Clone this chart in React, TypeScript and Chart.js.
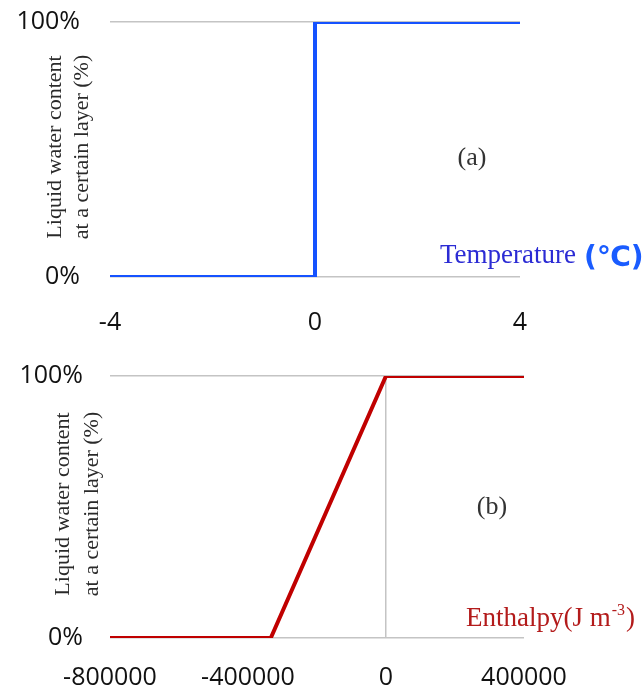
import React, { useEffect, useRef } from "react";
import { Chart, registerables } from "chart.js";

Chart.register(...registerables);

// Panel (a): temperature vs liquid water content
const tempX = [-4, 0, 0, 4];
const tempY = [0, 0, 100, 100];
const tempTicks = [-4, 0, 4];

// Panel (b): enthalpy vs liquid water content
const enthX = [-800000, -334000, 0, 400000];
const enthY = [0, 0, 100, 100];
const enthTicks = [-800000, -400000, 0, 400000];

const yTicks = [0, 100];
const yTitleLines = ["Liquid water content", "at a certain layer (%)"];

const GRID = "#c4c4c4";

type Ann = {
  title1X: number; title2X: number; titleY: number;
  tag: string; tagX: number; tagY: number;
  draw: (ctx: CanvasRenderingContext2D) => void;
};

function makeChart(
  canvas: HTMLCanvasElement,
  xs: number[], ys: number[], ticks: number[],
  color: string, area: { top: number; right: number; xh: number; tickPad: number; yPad: number },
  ann: Ann
) {
  const data = xs.map((x, i) => ({ x, y: ys[i] }));
  const annPlugin = {
    id: "ann",
    afterDraw(chart: any) {
      const ctx = chart.ctx as CanvasRenderingContext2D;
      ctx.save();
      ctx.fillStyle = "#2a2a2a";
      ctx.font = "22px 'Liberation Serif'";
      ctx.textAlign = "center";
      ctx.textBaseline = "middle";
      [ann.title1X, ann.title2X].forEach((tx, i) => {
        ctx.save();
        ctx.translate(tx, ann.titleY);
        ctx.rotate(-Math.PI / 2);
        ctx.fillText(yTitleLines[i], 0, 0);
        ctx.restore();
      });
      ctx.fillStyle = "#333";
      ctx.font = "26px 'Liberation Serif'";
      ctx.fillText(ann.tag, ann.tagX, ann.tagY);
      ann.draw(ctx);
      ctx.restore();
    },
  };
  return new Chart(canvas, {
    type: "scatter",
    data: {
      datasets: [
        {
          data,
          showLine: true,
          borderColor: color,
          backgroundColor: color,
          borderWidth: 4,
          pointRadius: 0,
          tension: 0,
          borderJoinStyle: "miter",
        } as any,
      ],
    },
    options: {
      animation: false,
      responsive: false,
      maintainAspectRatio: false,
      layout: { padding: { top: area.top, right: 642 - area.right, left: 0, bottom: 0 } },
      plugins: { legend: { display: false }, tooltip: { enabled: false } },
      scales: {
        x: {
          type: "linear",
          min: ticks[0],
          max: ticks[ticks.length - 1],
          afterBuildTicks: (s: any) => { s.ticks = ticks.map((v) => ({ value: v })); },
          afterFit: (s: any) => { s.height = area.xh; s.paddingLeft = 0; s.paddingRight = 0; },
          ticks: {
            padding: area.tickPad,
            color: "#111",
            font: { family: "'Open Sans'", size: 25 },
            maxRotation: 0,
            callback: (v: any) => String(v),
          },
          grid: {
            drawTicks: false,
            lineWidth: 1.5,
            color: (c: any) => (c.tick && c.tick.value === 0 ? GRID : "rgba(0,0,0,0)"),
          },
          border: { display: false },
        },
        y: {
          type: "linear",
          min: 0,
          max: 100,
          afterBuildTicks: (s: any) => { s.ticks = yTicks.map((v) => ({ value: v })); },
          afterFit: (s: any) => { s.width = 110; s.paddingTop = 0; s.paddingBottom = 0; },
          ticks: {
            padding: area.yPad,
            color: "#111",
            font: { family: "'Open Sans'", size: 25 },
            callback: (v: any) => v + "%",
          },
          grid: { drawTicks: false, lineWidth: 1.5, color: GRID },
          border: { display: false },
        },
      },
    },
    plugins: [annPlugin],
  } as any);
}

export default function App() {
  const refA = useRef<HTMLCanvasElement>(null);
  const refB = useRef<HTMLCanvasElement>(null);
  useEffect(() => {
    const a = makeChart(refA.current!, tempX, tempY, tempTicks, "#1552ff",
      { top: 22, right: 520, xh: 68, tickPad: 31, yPad: 30 },
      {
        title1X: 55, title2X: 82, titleY: 147, tag: "(a)", tagX: 472, tagY: 158,
        draw: (ctx) => {
          ctx.textAlign = "left";
          ctx.textBaseline = "alphabetic";
          ctx.fillStyle = "#2b2bd4";
          ctx.font = "27px 'Liberation Serif'";
          ctx.fillText("Temperature", 440, 263);
          ctx.fillStyle = "#1a5cff";
          ctx.font = "bold 28px 'DejaVu Sans'";
          ctx.fillText("(\u2103)", 584, 266);
        },
      });
    const b = makeChart(refB.current!, enthX, enthY, enthTicks, "#c00000",
      { top: 31, right: 524, xh: 52, tickPad: 25, yPad: 27 },
      {
        title1X: 63, title2X: 92, titleY: 159, tag: "(b)", tagX: 492, tagY: 162,
        draw: (ctx) => {
          ctx.textAlign = "left";
          ctx.textBaseline = "alphabetic";
          ctx.fillStyle = "#b31b1b";
          ctx.font = "27px 'Liberation Serif'";
          const s1 = "Enthalpy(J m";
          ctx.fillText(s1, 466, 281);
          const w1 = ctx.measureText(s1).width;
          ctx.font = "16px 'Liberation Serif'";
          const s2 = "-3";
          ctx.fillText(s2, 466 + w1 + 1, 270);
          const w2 = ctx.measureText(s2).width;
          ctx.font = "27px 'Liberation Serif'";
          ctx.fillText(")", 466 + w1 + w2 + 2, 281);
        },
      });
    return () => { a.destroy(); b.destroy(); };
  }, []);
  return (
    <div style={{ position: "absolute", left: 0, top: 0, width: 642, height: 690, background: "#fff" }}>
      <canvas ref={refA} width={642} height={345} style={{ position: "absolute", left: 0, top: 0 }} />
      <canvas ref={refB} width={642} height={345} style={{ position: "absolute", left: 0, top: 345 }} />
    </div>
  );
}
